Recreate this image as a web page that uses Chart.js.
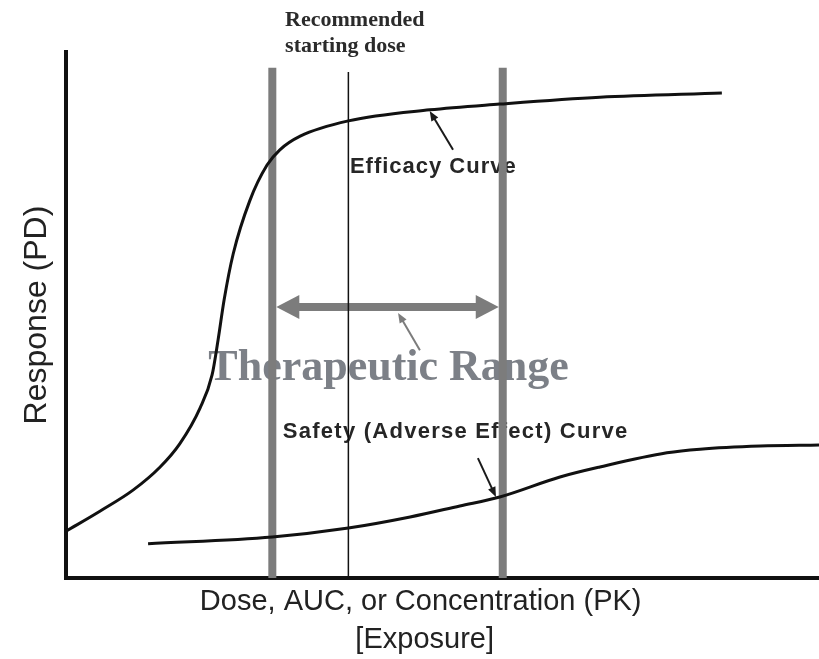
<!DOCTYPE html>
<html>
<head>
<meta charset="utf-8">
<title>Therapeutic Range</title>
<script src="https://cdn.jsdelivr.net/npm/chart.js@4.4.1/dist/chart.umd.min.js"></script>
<style>
    html, body { margin: 0; padding: 0; background: #fff; }
    #wrap { width: 819px; height: 659px; }
</style>
</head>
<body>
<div id="wrap"><canvas id="chartExposure" width="819" height="659"></canvas></div>
<script>
// exposure (x) and response (y), both on a 0-100 scale
const efficacyDose = [0, 4.5, 8.9, 12.5, 15.1, 17.8, 19.4, 20.2, 21.0, 22.2, 24.4, 26.7, 28.4, 31.1, 37.5, 48.3, 57.6, 70.9, 87.1]
const efficacyResp = [8.9, 12.7, 16.7, 21.1, 25.5, 32.3, 38.6, 45.3, 52.9, 61.6, 71.7, 78.5, 81.4, 84.0, 86.9, 89.0, 90.1, 91.4, 92.2]
const safetyDose = [10.9, 27.4, 37.5, 45.7, 52.3, 57.6, 65.6, 70.9, 79.8, 84.2, 92.2, 100]
const safetyResp = [6.5, 7.8, 9.5, 11.6, 13.7, 15.4, 19.2, 21.1, 23.8, 24.5, 25.1, 25.3]

// window edges and the recommended starting dose
const rangeLow = 27.4
const rangeHigh = 58.0
const startDose = 37.5
const guideTop = 97
const startTop = 96.2

const xTitle = ['Dose, AUC, or Concentration (PK)', '[Exposure]']

const sans = '"Liberation Sans", Arial, Helvetica, sans-serif'
const serif = '"Liberation Serif", "Times New Roman", serif'
const grey = 'rgb(124, 124, 124)'

function toPoints(xs, ys) {
    return xs.map((v, i) => ({ x: v, y: ys[i] }))
}

function pointer(ctx, x0, y0, x1, y1, color) {
    const ang = Math.atan2(y1 - y0, x1 - x0)
    const len = 10
    ctx.strokeStyle = color
    ctx.fillStyle = color
    ctx.lineWidth = 2
    ctx.beginPath()
    ctx.moveTo(x0, y0)
    ctx.lineTo(x1 - Math.cos(ang) * len * 0.6, y1 - Math.sin(ang) * len * 0.6)
    ctx.stroke()
    ctx.beginPath()
    ctx.moveTo(x1, y1)
    ctx.lineTo(x1 - len * Math.cos(ang) + 4 * Math.sin(ang), y1 - len * Math.sin(ang) - 4 * Math.cos(ang))
    ctx.lineTo(x1 - len * Math.cos(ang) - 4 * Math.sin(ang), y1 - len * Math.sin(ang) + 4 * Math.cos(ang))
    ctx.closePath()
    ctx.fill()
}

// labels, the range arrow and the little pointers sit under the curves
const notes = {
    id: 'notes',
    beforeDatasetsDraw(chart) {
        const ctx = chart.ctx
        const px = v => chart.scales.x.getPixelForValue(v)
        const py = v => chart.scales.y.getPixelForValue(v)
        ctx.save()
        ctx.textAlign = 'left'
        ctx.textBaseline = 'alphabetic'

        ctx.font = 'bold 44px ' + serif
        ctx.fillStyle = 'rgb(124, 128, 135)'
        ctx.fillText('Therapeutic Range', px(18.9), py(37.6))

        ctx.font = 'bold 22px ' + serif
        ctx.fillStyle = '#2b2b2b'
        ctx.fillText('Recommended', px(29.1), py(104.9))
        ctx.fillText('starting dose', px(29.1), py(100))

        ctx.font = 'bold 22px ' + sans
        ctx.fillStyle = '#262626'
        ctx.letterSpacing = '1px'
        ctx.fillText('Efficacy Curve', px(37.7), py(77.0))
        ctx.letterSpacing = '1.25px'
        ctx.fillText('Safety (Adverse Effect) Curve', px(28.8), py(26.6))
        ctx.letterSpacing = '0px'

        // double-headed arrow between the window edges
        const ay = py(51.5)
        const x1 = px(rangeLow) + 4
        const x2 = px(rangeHigh) - 4
        const head = 23
        const half = 12
        ctx.strokeStyle = grey
        ctx.fillStyle = grey
        ctx.lineWidth = 8
        ctx.beginPath()
        ctx.moveTo(x1 + head - 2, ay)
        ctx.lineTo(x2 - head + 2, ay)
        ctx.stroke()
        ctx.beginPath()
        ctx.moveTo(x1, ay)
        ctx.lineTo(x1 + head, ay - half)
        ctx.lineTo(x1 + head, ay + half)
        ctx.closePath()
        ctx.fill()
        ctx.beginPath()
        ctx.moveTo(x2, ay)
        ctx.lineTo(x2 - head, ay - half)
        ctx.lineTo(x2 - head, ay + half)
        ctx.closePath()
        ctx.fill()

        pointer(ctx, px(51.4), py(81.4), px(48.3), py(88.8), '#1a1a1a')
        pointer(ctx, px(47.0), py(43.3), px(44.1), py(50.4), grey)
        pointer(ctx, px(54.7), py(22.8), px(57.1), py(15.4), '#1a1a1a')
        ctx.restore()
    },
    // exposure axis title, two lines under the x axis
    afterDraw(chart) {
        const ctx = chart.ctx
        const cx = chart.scales.x.getPixelForValue(47.1)
        const base = chart.chartArea.bottom
        ctx.save()
        ctx.font = '29px ' + sans
        ctx.fillStyle = '#222'
        ctx.textAlign = 'center'
        ctx.textBaseline = 'alphabetic'
        ctx.fillText(xTitle[0], cx, base + 32)
        ctx.fillText(xTitle[1], cx + 4, base + 70)
        ctx.restore()
    }
}

var ctx = document.getElementById('chartExposure').getContext('2d')
var chart = new Chart(ctx, {
    type: 'line',
    data: {
        datasets: [{
            label: 'Efficacy',
            data: toPoints(efficacyDose, efficacyResp),
            borderColor: '#111',
            borderWidth: 3,
            pointRadius: 0,
            cubicInterpolationMode: 'monotone'
        }, {
            label: 'Safety',
            data: toPoints(safetyDose, safetyResp),
            borderColor: '#111',
            borderWidth: 3,
            pointRadius: 0,
            cubicInterpolationMode: 'monotone'
        }, {
            label: 'Starting dose',
            data: [{ x: startDose, y: 0 }, { x: startDose, y: startTop }],
            borderColor: '#111',
            borderWidth: 1.5,
            pointRadius: 0
        }, {
            label: 'Range low',
            data: [{ x: rangeLow, y: 0 }, { x: rangeLow, y: guideTop }],
            borderColor: grey,
            borderWidth: 8,
            pointRadius: 0
        }, {
            label: 'Range high',
            data: [{ x: rangeHigh, y: 0 }, { x: rangeHigh, y: guideTop }],
            borderColor: grey,
            borderWidth: 8,
            pointRadius: 0
        }]
    },
    options: {
        responsive: false,
        animation: false,
        layout: { padding: { top: 52, right: 0, bottom: 81, left: 0 } },
        plugins: {
            legend: { display: false },
            tooltip: { enabled: false }
        },
        scales: {
            x: {
                type: 'linear',
                min: 0,
                max: 100,
                grid: { display: false, drawTicks: false },
                ticks: { display: false },
                border: { display: true, color: '#111', width: 4 }
            },
            y: {
                type: 'linear',
                min: 0,
                max: 100,
                grid: { display: false, drawTicks: false },
                ticks: { display: false },
                border: { display: true, color: '#111', width: 4 },
                title: {
                    display: true,
                    text: 'Response (PD)',
                    color: '#222',
                    font: { family: sans, size: 32, lineHeight: '34px' },
                    padding: { top: 20, bottom: 12 }
                }
            }
        }
    },
    plugins: [notes]
})
</script>
</body>
</html>
